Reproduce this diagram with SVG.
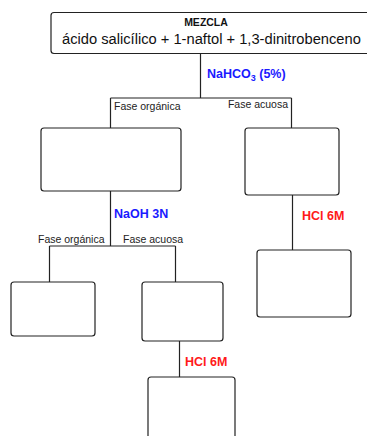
<svg xmlns="http://www.w3.org/2000/svg" width="367" height="436" viewBox="0 0 367 436">
<style>
.box{fill:#fff;stroke:#222;stroke-width:1.2}
.ln{fill:none;stroke:#222;stroke-width:1.2}
.lbl{font-family:"Liberation Sans",Arial,sans-serif;font-size:10.5px;fill:#222}
.blue{font-family:"Liberation Sans",Arial,sans-serif;font-size:12.5px;font-weight:bold;fill:#1a1aff}
.red{font-family:"Liberation Sans",Arial,sans-serif;font-size:12.5px;font-weight:bold;fill:#ff1a1a}
</style>
<rect width="367" height="436" fill="#fff"/>
<g id="connectors">
<path class="ln" d="M200.5,53 V98 M110.5,98 H291.5 M110.5,98 V128 M291.5,98 V128"/>
<path class="ln" d="M110.5,191 V246 M49.5,246 H175.5 M49.5,246 V282 M175.5,246 V282"/>
<path class="ln" d="M179.5,341 V377"/>
<path class="ln" d="M292.5,195 V250"/>
<text class="blue" x="207" y="78">NaHCO<tspan font-size="9" dy="3">3</tspan><tspan dy="-3"> (5%)</tspan></text>
<text class="lbl" x="114" y="110">Fase orgánica</text>
<text class="lbl" x="288" y="108" text-anchor="end">Fase acuosa</text>
<text class="blue" x="114" y="218">NaOH 3N</text>
<text class="lbl" x="38" y="243">Fase orgánica</text>
<text class="lbl" x="123" y="243">Fase acuosa</text>
<text class="red" x="185" y="366">HCl 6M</text>
<text class="red" x="302" y="220">HCl 6M</text>
</g>
<g id="mezcla">
<rect class="box" x="51" y="12.5" width="325" height="41" rx="3"/>
<text x="206" y="26" text-anchor="middle" font-family="Liberation Sans,Arial,sans-serif" font-size="10.5" font-weight="bold" fill="#111">MEZCLA</text>
<text x="62" y="44" font-family="Liberation Sans,Arial,sans-serif" font-size="14.7" fill="#111">ácido salicílico + 1-naftol + 1,3-dinitrobenceno</text>
</g>
<g id="org1"><rect class="box" x="41" y="128" width="140" height="63" rx="3"/></g>
<g id="acu1"><rect class="box" x="245" y="128" width="94" height="67" rx="3"/></g>
<g id="acu1b"><rect class="box" x="257" y="250" width="94" height="67" rx="3"/></g>
<g id="org2"><rect class="box" x="11" y="282" width="84" height="54" rx="3"/></g>
<g id="acu2"><rect class="box" x="142" y="282" width="81" height="59" rx="3"/></g>
<g id="acu2b"><rect class="box" x="148" y="377" width="87" height="70" rx="3"/></g>
</svg>
